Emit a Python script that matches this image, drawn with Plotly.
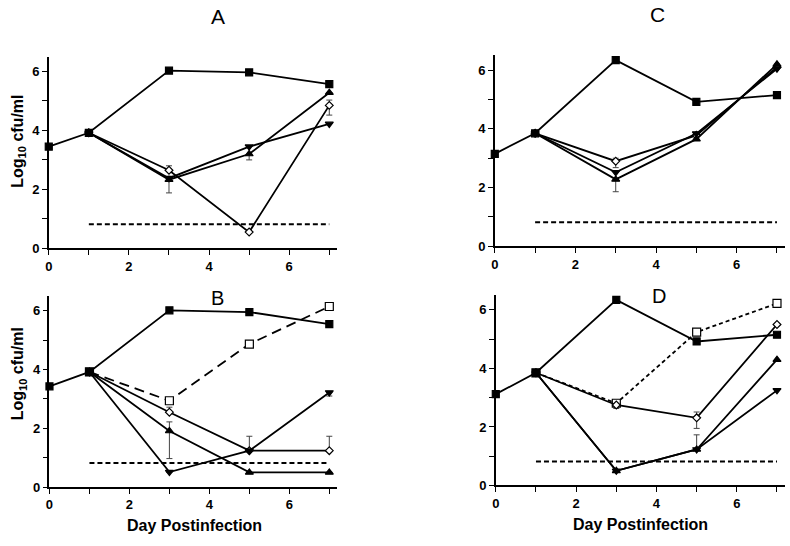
import plotly.graph_objects as go

# ---------------- data ----------------
days_ctrl = [0, 1, 3, 5, 7]
days = [1, 3, 5, 7]
limit_days = [1, 7]
detection_limit = [0.82, 0.82]

A_ctrl = [3.45, 3.92, 6.03, 5.97, 5.57]
A_diamond = [3.92, 2.65, 0.55, 4.85]
A_up = [3.92, 2.33, 3.2, 5.28]
A_down = [3.92, 2.38, 3.45, 4.22]
A_diamond_ep = [None, 0.15, None, 0.18]
A_diamond_em = [None, None, None, 0.33]
A_up_em = [None, 0.45, 0.2, None]

B_ctrl = [3.43, 3.92, 6.02, 5.96, 5.55]
B_opensq = [3.92, 2.94, 4.87, 6.15]
B_diamond = [3.92, 2.55, 1.24, 1.24]
B_up = [3.92, 1.91, 0.5, 0.5]
B_down = [3.92, 0.51, 1.24, 3.22]
B_diamond_ep = [None, 0.17, 0.49, 0.49]
B_up_ep = [None, 0.31, None, None]
B_up_em = [None, 0.94, None, None]
B_down_em = [None, None, None, 0.12]

C_ctrl = [3.15, 3.85, 6.34, 4.92, 5.15]
C_diamond = [3.85, 2.9, 3.78, 6.1]
C_down = [3.85, 2.52, 3.84, 6.05]
C_up = [3.85, 2.28, 3.65, 6.2]
C_diamond_ep = [None, 0.1, None, None]
C_diamond_em = [None, 0.22, None, None]
C_up_em = [None, 0.42, None, None]

D_ctrl = [3.12, 3.85, 6.34, 4.92, 5.15]
D_opensq = [3.85, 2.81, 5.24, 6.22]
D_diamond = [3.85, 2.75, 2.31, 5.5]
D_up = [3.85, 0.5, 1.23, 4.3]
D_down = [3.85, 0.5, 1.23, 3.25]
D_diamond_ep = [None, None, 0.2, None]
D_diamond_em = [None, 0.12, 0.36, None]
D_up_ep = [None, None, 0.5, None]

panel_labels = ["A", "B", "C", "D"]
y_title = "Log<sub>10</sub> cfu/ml"
x_title = "Day Postinfection"
x_ticks = [0, 2, 4, 6]
y_ticks = [0, 2, 4, 6]

# ---------------- figure ----------------
fig = go.Figure()
FONT = "Liberation Sans, Arial, sans-serif"
LW = 1.8


def err(plus, minus):
    if plus is None and minus is None:
        return None
    return dict(type="data", symmetric=False,
                array=plus if plus is not None else [None] * 4,
                arrayminus=minus if minus is not None else [None] * 4,
                color="#444", thickness=1, width=3)


def add_series(ax, x, y, symbol, fill, dash="solid", ep=None, em=None, size=7):
    xa = "x" if ax == 1 else f"x{ax}"
    ya = "y" if ax == 1 else f"y{ax}"
    e = err(ep, em)
    fig.add_trace(go.Scatter(
        x=x, y=y, xaxis=xa, yaxis=ya, mode="lines+markers",
        line=dict(color="black", width=LW, dash=dash),
        marker=dict(symbol=symbol, size=size, color=fill,
                    line=dict(color="black", width=1.2)),
        error_y=e, cliponaxis=False, showlegend=False))


def add_limit(ax):
    xa = "x" if ax == 1 else f"x{ax}"
    ya = "y" if ax == 1 else f"y{ax}"
    fig.add_trace(go.Scatter(
        x=limit_days, y=detection_limit, xaxis=xa, yaxis=ya, mode="lines",
        line=dict(color="black", width=2, dash="5px,3px"),
        showlegend=False, cliponaxis=False))


# Panel A (axis 1)
add_limit(1)
add_series(1, days, A_diamond, "diamond", "white", ep=A_diamond_ep, em=A_diamond_em, size=6)
add_series(1, days, A_up, "triangle-up", "black", em=A_up_em)
add_series(1, days, A_down, "triangle-down", "black")
add_series(1, days_ctrl, A_ctrl, "square", "black")

# Panel B (axis 2)
add_limit(2)
add_series(2, days, B_opensq, "square", "white", dash="10px,6px", size=8)
add_series(2, days, B_diamond, "diamond", "white", ep=B_diamond_ep, size=6)
add_series(2, days, B_up, "triangle-up", "black", ep=B_up_ep, em=B_up_em)
add_series(2, days, B_down, "triangle-down", "black", em=B_down_em)
add_series(2, days_ctrl, B_ctrl, "square", "black")

# Panel C (axis 3)
add_limit(3)
add_series(3, days, C_diamond, "diamond", "white", ep=C_diamond_ep, em=C_diamond_em, size=6)
add_series(3, days, C_down, "triangle-down", "black")
add_series(3, days, C_up, "triangle-up", "black", em=C_up_em)
add_series(3, days_ctrl, C_ctrl, "square", "black")

# Panel D (axis 4)
add_limit(4)
add_series(4, days, D_opensq, "square", "white", dash="4px,3px", size=8)
add_series(4, days, D_diamond, "diamond", "white", ep=D_diamond_ep, em=D_diamond_em, size=6)
add_series(4, days, D_up, "triangle-up", "black", ep=D_up_ep)
add_series(4, days, D_down, "triangle-down", "black")
add_series(4, days_ctrl, D_ctrl, "square", "black")

W, H = 790, 546
domains = {
    1: ([45 / W, 335 / W], [294 / H, 488.4 / H]),
    2: ([45.7 / W, 335 / W], [51.7 / H, 245.4 / H]),
    3: ([493.3 / W, 785 / W], [296 / H, 489.7 / H]),
    4: ([494.3 / W, 785 / W], [53.3 / H, 246.4 / H]),
}

tickfont = dict(family=FONT, size=13, color="black", weight="bold")
layout = dict(autosize=True, margin=dict(l=0, r=0, t=0, b=0),
              paper_bgcolor="white", plot_bgcolor="white",
              font=dict(family=FONT, color="black"))
for i in range(1, 5):
    xd, yd = domains[i]
    xk = "xaxis" if i == 1 else f"xaxis{i}"
    yk = "yaxis" if i == 1 else f"yaxis{i}"
    xa = "x" if i == 1 else f"x{i}"
    ya = "y" if i == 1 else f"y{i}"
    layout[xk] = dict(domain=xd, anchor=ya, range=[0, 7.2], tickvals=x_ticks,
                      showline=True, linecolor="black", linewidth=1.5,
                      ticks="outside", ticklen=5, tickwidth=1.2, tickcolor="black",
                      minor=dict(tickvals=[1, 3, 5, 7], ticks="outside", ticklen=5,
                                 tickwidth=1.2, tickcolor="black"),
                      showgrid=False, zeroline=False, tickfont=tickfont)
    layout[yk] = dict(domain=yd, anchor=xa, range=[0, 6.5], tickvals=y_ticks,
                      showline=True, linecolor="black", linewidth=1.5,
                      ticks="outside", ticklen=5, tickwidth=1.2, tickcolor="black",
                      minor=dict(tickvals=[1, 3, 5], ticks="outside", ticklen=5,
                                 tickwidth=1.2, tickcolor="black"),
                      showgrid=False, zeroline=False, tickfont=tickfont)

fig.update_layout(**layout)

annotations = [
    dict(text=panel_labels[0], x=215, y=17, size=21),
    dict(text=panel_labels[2], x=657, y=15, size=21),
    dict(text=panel_labels[1], x=215, y=302, size=20),
    dict(text=panel_labels[3], x=658, y=300, size=20),
]
for a in annotations:
    fig.add_annotation(text=a["text"], x=a["x"] / W, y=1 - a["y"] / H,
                       xref="paper", yref="paper", showarrow=False,
                       xanchor="center", yanchor="middle",
                       font=dict(family=FONT, size=a["size"], color="black"))

for (cx, cy) in [(15, 143), (15, 379)]:
    fig.add_annotation(text=y_title, x=cx / W, y=1 - cy / H, xref="paper", yref="paper",
                       showarrow=False, textangle=-90, xanchor="center", yanchor="middle",
                       font=dict(family=FONT, size=16, color="black", weight="bold"))

for (cx, cy) in [(191, 533), (640, 532)]:
    fig.add_annotation(text=x_title, x=cx / W, y=1 - cy / H, xref="paper", yref="paper",
                       showarrow=False, xanchor="center", yanchor="middle",
                       font=dict(family=FONT, size=16, color="black", weight="bold"))

fig.write_html("out.html",
               config={"displayModeBar": False, "responsive": True},
               default_width="100vw", default_height="100vh",
               post_script=("document.documentElement.style.margin='0';"
                            "document.documentElement.style.overflow='hidden';"
                            "document.body.style.margin='0';"
                            "document.body.style.overflow='hidden';"
                            "window.dispatchEvent(new Event('resize'));"))
